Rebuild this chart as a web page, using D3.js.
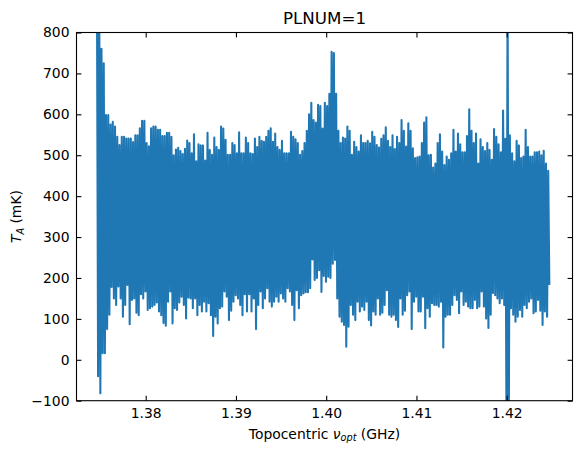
<!DOCTYPE html>
<html>
<head>
<meta charset="utf-8">
<script src="https://d3js.org/d3.v7.min.js"></script>
<style>
  body { margin: 0; background: #fff; }
  text { font-family: "DejaVu Sans", sans-serif; fill: #000; }
</style>
</head>
<body>
<div class="container"></div>
<script>
var w = 581;
var h = 455;

// channel grid (GHz)
var freqStart = 1.3746;
var freqStep = 0.00025;

// per-channel-bin maximum and minimum of antenna temperature (mK)
var upper = [
  900, 900, 760, 725, 598, 598, 575, 582, 570, 545,
  525, 545, 545, 541, 541, 541, 532, 549, 549, 566,
  584, 584, 530, 522, 566, 570, 570, 562, 562, 547,
  547, 555, 555, 545, 500, 514, 518, 510, 503, 516,
  536, 530, 505, 551, 485, 527, 524, 524, 487, 555,
  513, 501, 543, 520, 513, 570, 565, 538, 501, 501,
  530, 525, 505, 556, 505, 505, 543, 530, 505, 503,
  541, 520, 545, 535, 533, 545, 560, 566, 533, 553,
  520, 513, 535, 505, 505, 505, 557, 545, 539, 530,
  501, 510, 530, 560, 600, 628, 586, 580, 623, 620,
  565, 628, 620, 650, 753, 750, 650, 560, 530, 543,
  541, 570, 560, 501, 533, 520, 509, 549, 530, 530,
  535, 529, 557, 545, 525, 519, 540, 549, 568, 535,
  520, 549, 515, 545, 530, 586, 560, 521, 578, 560,
  517, 493, 495, 497, 530, 580, 593, 500, 501, 470,
  480, 530, 551, 509, 476, 497, 489, 505, 562, 509,
  553, 527, 507, 507, 547, 612, 560, 530, 553, 480,
  539, 520, 510, 530, 513, 489, 564, 545, 527, 507,
  609, 540, 900, 549, 505, 485, 535, 524, 493, 497,
  562, 520, 497, 497, 507, 507, 509, 500, 511, 480,
  462
];
var lower = [
  -40, -82, 16, 16, 75, 110, 178, 150, 134, 179,
  150, 105, 134, 183, 87, 146, 150, 115, 109, 160,
  150, 167, 122, 126, 130, 134, 140, 118, 109, 90,
  83, 142, 167, 89, 126, 122, 140, 154, 134, 101,
  152, 150, 126, 150, 109, 134, 118, 142, 118, 138,
  109, 58, 105, 89, 126, 130, 167, 154, 97, 120,
  142, 158, 150, 134, 109, 160, 118, 160, 118, 150,
  75, 134, 167, 126, 150, 175, 142, 130, 142, 154,
  142, 162, 150, 142, 175, 167, 134, 97, 170, 126,
  158, 162, 165, 165, 175, 245, 195, 200, 219, 166,
  205, 191, 203, 200, 235, 244, 150, 105, 93, 85,
  32, 81, 134, 110, 97, 142, 118, 130, 122, 142,
  97, 84, 118, 110, 150, 110, 115, 134, 170, 110,
  105, 110, 97, 80, 150, 110, 120, 158, 167, 75,
  142, 154, 118, 118, 154, 77, 126, 105, 138, 134,
  134, 130, 142, 30, 105, 110, 110, 134, 158, 146,
  114, 167, 134, 142, 130, 126, 126, 146, 126, 130,
  167, 130, 101, 78, 110, 163, 158, 150, 138, 150,
  134, -150, -200, 126, 110, 93, 105, 122, 105, 134,
  126, 142, 150, 114, 118, 146, 120, 85, 118, 105,
  183
];

var xTicks = [1.38, 1.39, 1.40, 1.41, 1.42];
var yTicks = [-100, 0, 100, 200, 300, 400, 500, 600, 700, 800];
var xLimits = [1.372332, 1.427291];
var yLimits = [-100, 800];

var plotLeft = 76.5, plotRight = 572.5, plotTop = 32.5, plotBottom = 400.7;
var tick = 4.9;

var svg = d3.select('.container')
  .append('svg')
  .attr('width', w)
  .attr('height', h)
  .style('display', 'block');

svg.append('rect').attr('width', w).attr('height', h).attr('fill', '#fff');

var xScale = d3.scaleLinear().domain(xLimits).range([plotLeft, plotRight]);
var yScale = d3.scaleLinear().domain(yLimits).range([plotBottom, plotTop]);

// zig-zag through max / min of every bin, like the dense raw spectrum
var pts = [];
upper.forEach(function(u, i) {
  var f = freqStart + freqStep * i;
  pts.push([f, u]);
  pts.push([f + freqStep / 2, lower[i]]);
});

svg.append('clipPath').attr('id', 'plotclip')
  .append('rect')
  .attr('x', plotLeft).attr('y', plotTop)
  .attr('width', plotRight - plotLeft).attr('height', plotBottom - plotTop);

var line = d3.line()
  .x(function(d) { return xScale(d[0]); })
  .y(function(d) { return yScale(d[1]); });

svg.append('path')
  .datum(pts)
  .attr('clip-path', 'url(#plotclip)')
  .attr('d', line)
  .attr('fill', 'none')
  .attr('stroke', '#1f77b4')
  .attr('stroke-width', 2.08)
  .attr('stroke-linejoin', 'round');

var fmtX = d3.format('.2f');
var fmtY = function(d) { return d < 0 ? '\u2212' + Math.abs(d) : String(d); };

var xAxis = d3.axisBottom(xScale).tickValues(xTicks).tickFormat(fmtX)
  .tickSizeInner(-tick).tickSizeOuter(0).tickPadding(7.8);
var xAxisTop = d3.axisTop(xScale).tickValues(xTicks).tickFormat('')
  .tickSizeInner(-tick).tickSizeOuter(0);
var yAxis = d3.axisLeft(yScale).tickValues(yTicks).tickFormat(fmtY)
  .tickSizeInner(-tick).tickSizeOuter(0).tickPadding(7);
var yAxisRight = d3.axisRight(yScale).tickValues(yTicks).tickFormat('')
  .tickSizeInner(-tick).tickSizeOuter(0);

function style(g) {
  g.select('.domain').remove();
  g.selectAll('line').attr('stroke', '#000').attr('stroke-width', 1.1);
  g.selectAll('text').attr('font-family', 'DejaVu Sans').attr('font-size', 13.9).attr('fill', '#000');
}

svg.append('g').attr('transform', 'translate(0,' + plotBottom + ')').call(xAxis).call(style);
svg.append('g').attr('transform', 'translate(0,' + plotTop + ')').call(xAxisTop).call(style);
svg.append('g').attr('transform', 'translate(' + plotLeft + ',0)').call(yAxis).call(style);
svg.append('g').attr('transform', 'translate(' + plotRight + ',0)').call(yAxisRight).call(style);

svg.append('rect')
  .attr('x', plotLeft).attr('y', plotTop)
  .attr('width', plotRight - plotLeft).attr('height', plotBottom - plotTop)
  .attr('fill', 'none')
  .attr('stroke', '#000')
  .attr('stroke-width', 1.1);

var cx = (plotLeft + plotRight) / 2;

svg.append('text')
  .attr('x', cx).attr('y', 24)
  .attr('text-anchor', 'middle')
  .attr('font-size', 16.7)
  .text('PLNUM=1');

var xl = svg.append('text')
  .attr('x', cx).attr('y', 438.5)
  .attr('text-anchor', 'middle')
  .attr('font-size', 13.9);
xl.append('tspan').text('Topocentric ');
xl.append('tspan').attr('font-style', 'italic').text('\u03bd');
xl.append('tspan').attr('font-style', 'italic').attr('font-size', 9.7).attr('dy', 2.6).text('opt');
xl.append('tspan').attr('dy', -2.6).text(' (GHz)');

var yl = svg.append('text')
  .attr('transform', 'translate(21,' + ((plotTop + plotBottom) / 2) + ') rotate(-90)')
  .attr('text-anchor', 'middle')
  .attr('font-size', 13.9);
yl.append('tspan').attr('font-style', 'italic').text('T');
yl.append('tspan').attr('font-style', 'italic').attr('font-size', 9.7).attr('dy', 2.6).text('A');
yl.append('tspan').attr('dy', -2.6).text(' (mK)');
</script>
</body>
</html>
